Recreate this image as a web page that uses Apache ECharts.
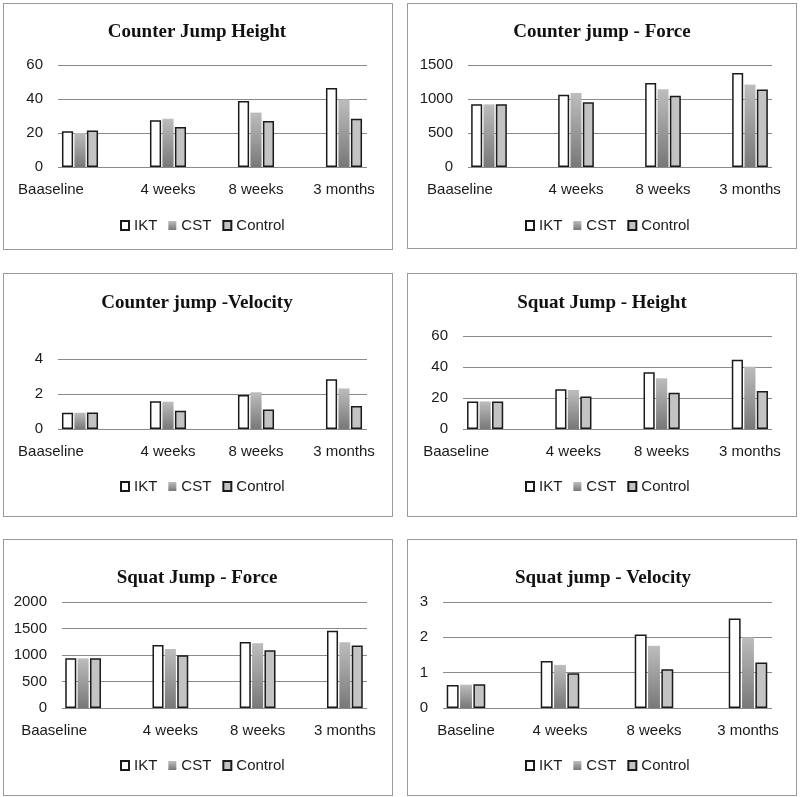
<!DOCTYPE html>
<html>
<head>
<meta charset="utf-8">
<script src="https://cdn.jsdelivr.net/npm/echarts@6/dist/echarts.min.js"></script>
<style>
  html, body { margin: 0; padding: 0; background: #fff; }
  #wrap { position: relative; width: 800px; height: 797px; }
  .frame { position: absolute; border: 1px solid #9a9a9a; box-sizing: border-box; }
  #chart { position: absolute; left: 0; top: 0; width: 800px; height: 797px; }
</style>
</head>
<body>
<div id="wrap">
  <div id="frames"></div>
  <div id="chart"></div>
</div>
<script>
// ---------------- DATA ----------------
const categories = ['Baaseline', '4 weeks', '8 weeks', '3 months'];
const categoriesSquatVelocity = ['Baseline', '4 weeks', '8 weeks', '3 months'];
const seriesNames = ['IKT', 'CST', 'Control'];

const titles = ['Counter Jump Height', 'Counter jump - Force', 'Counter jump -Velocity',
                'Squat Jump - Height', 'Squat Jump - Force', 'Squat jump - Velocity'];

// Counter Jump Height
const cjHeightIKT = [21, 27.5, 38.8, 46.5];
const cjHeightCST = [20, 28.4, 32, 39.8];
const cjHeightControl = [21.4, 23.5, 27, 28.4];
const cjHeightTicks = [0, 20, 40, 60];

// Counter jump - Force
const cjForceIKT = [921, 1064, 1236, 1384];
const cjForceCST = [921, 1089, 1143, 1212];
const cjForceControl = [921, 951, 1049, 1138];
const cjForceTicks = [0, 500, 1000, 1500];

// Counter jump - Velocity
const cjVelocityIKT = [0.93, 1.58, 1.94, 2.84];
const cjVelocityCST = [0.93, 1.56, 2.1, 2.32];
const cjVelocityControl = [0.95, 1.05, 1.12, 1.31];
const cjVelocityTicks = [0, 2, 4];

// Squat Jump - Height
const sjHeightIKT = [17.8, 25.6, 36.6, 44.7];
const sjHeightCST = [17.8, 25.2, 32.7, 40.2];
const sjHeightControl = [17.8, 20.9, 23.4, 24.5];
const sjHeightTicks = [0, 20, 40, 60];

// Squat Jump - Force
const sjForceIKT = [937, 1190, 1247, 1456];
const sjForceCST = [937, 1114, 1222, 1241];
const sjForceControl = [937, 994, 1089, 1177];
const sjForceTicks = [0, 500, 1000, 1500, 2000];

// Squat jump - Velocity
const sjVelocityIKT = [0.65, 1.33, 2.08, 2.53];
const sjVelocityCST = [0.66, 1.22, 1.76, 2.0];
const sjVelocityControl = [0.67, 0.98, 1.10, 1.29];
const sjVelocityTicks = [0, 1, 2, 3];

// ---------------- LAYOUT ----------------
const panels = [
  { title: titles[0], cats: categories, data: [cjHeightIKT, cjHeightCST, cjHeightControl], ticks: cjHeightTicks,
    frame: [3, 3, 390, 247], titleXY: [197, 32], band: [36, 388], lines: [58, 367], plot: [65, 167], legend: [120, 218], shift: true },
  { title: titles[1], cats: categories, data: [cjForceIKT, cjForceCST, cjForceControl], ticks: cjForceTicks,
    frame: [407, 3, 390, 246], titleXY: [602, 32], band: [445.5, 793.5], lines: [468, 772], plot: [65, 167], legend: [525, 218], shift: true },
  { title: titles[2], cats: categories, data: [cjVelocityIKT, cjVelocityCST, cjVelocityControl], ticks: cjVelocityTicks,
    frame: [3, 273, 390, 244], titleXY: [197, 303], band: [36, 388], lines: [58, 367], plot: [359, 429], legend: [120, 479], shift: true },
  { title: titles[3], cats: categories, data: [sjHeightIKT, sjHeightCST, sjHeightControl], ticks: sjHeightTicks,
    frame: [407, 273, 390, 244], titleXY: [602, 303], band: [441, 794], lines: [463, 772], plot: [336, 429], legend: [525, 479], shift: true },
  { title: titles[4], cats: categories, data: [sjForceIKT, sjForceCST, sjForceControl], ticks: sjForceTicks,
    frame: [3, 539, 390, 257], titleXY: [197, 578], band: [39.5, 388.5], lines: [62, 367], plot: [602, 708], legend: [120, 758], shift: true },
  { title: titles[5], cats: categoriesSquatVelocity, data: [sjVelocityIKT, sjVelocityCST, sjVelocityControl], ticks: sjVelocityTicks,
    frame: [407, 539, 390, 257], titleXY: [603, 578], band: [419, 795], lines: [443, 772], plot: [602, 708], legend: [525, 758], shift: false }
];

// frames (panel borders)
const framesEl = document.getElementById('frames');
panels.forEach(p => {
  const d = document.createElement('div');
  d.className = 'frame';
  d.style.left = p.frame[0] + 'px';
  d.style.top = p.frame[1] + 'px';
  d.style.width = p.frame[2] + 'px';
  d.style.height = p.frame[3] + 'px';
  framesEl.appendChild(d);
});

const FONT = 'Liberation Sans, Arial, sans-serif';
const TXT = '#1a1a1a';
const GRIDLINE = '#8a8a8a';
const EDGE = '#1a1a1a';

const seriesStyles = [
  { color: '#ffffff', borderColor: EDGE, borderWidth: 1.5 },
  { color: new echarts.graphic.LinearGradient(0, 0, 0, 1, [
      { offset: 0, color: '#bdbdbd' }, { offset: 1, color: '#787878' }]), borderWidth: 0 },
  { color: '#c3c3c3', borderColor: EDGE, borderWidth: 1.5 }
];

const option = {
  animation: false,
  backgroundColor: 'transparent',
  title: [], legend: [], grid: [], xAxis: [], yAxis: [], series: []
};

panels.forEach((p, i) => {
  const tmin = p.ticks[0], tmax = p.ticks[p.ticks.length - 1], step = p.ticks[1] - p.ticks[0];
  option.title.push({
    text: p.title, left: p.titleXY[0], top: p.titleXY[1],
    textAlign: 'center', textVerticalAlign: 'middle', padding: 0,
    textStyle: { fontFamily: 'Liberation Serif, Times New Roman, serif', fontWeight: 'bold', fontSize: 19, color: '#111' }
  });
  option.legend.push({
    data: seriesNames, left: p.legend[0], top: p.legend[1], padding: 0,
    itemWidth: 8, itemHeight: 9, itemGap: 11, icon: 'rect',
    textStyle: { fontFamily: FONT, fontSize: 15, color: TXT }
  });
  // bar grid (full category bands)
  option.grid.push({ left: p.band[0], top: p.plot[0], width: p.band[1] - p.band[0], height: p.plot[1] - p.plot[0], containLabel: false });
  // gridline grid (inset)
  option.grid.push({ left: p.lines[0], top: p.plot[0], width: p.lines[1] - p.lines[0], height: p.plot[1] - p.plot[0], containLabel: false });

  option.xAxis.push({
    type: 'category', gridIndex: 2 * i, data: p.cats,
    axisLine: { show: false }, axisTick: { show: false },
    axisLabel: {
      margin: 15, fontFamily: FONT, fontSize: 15, color: TXT, interval: 0,
      formatter: (v, idx) => (p.shift && idx === 0) ? '{s|' + v + '}' : v,
      rich: { s: { padding: [0, 58, 0, 0], fontFamily: FONT, fontSize: 15, color: TXT } }
    }
  });
  option.xAxis.push({ type: 'value', gridIndex: 2 * i + 1, min: 0, max: 1, show: false });

  option.yAxis.push({ type: 'value', gridIndex: 2 * i, min: tmin, max: tmax, interval: step, show: false });
  option.yAxis.push({
    type: 'value', gridIndex: 2 * i + 1, min: tmin, max: tmax, interval: step,
    axisLine: { show: false }, axisTick: { show: false },
    axisLabel: { margin: 15, fontFamily: FONT, fontSize: 15, color: TXT, formatter: v => String(v) },
    splitLine: { show: true, lineStyle: { color: GRIDLINE, width: 1.2 } }
  });

  seriesNames.forEach((name, k) => {
    option.series.push({
      type: 'bar', name: name, xAxisIndex: 2 * i, yAxisIndex: 2 * i,
      data: p.data[k], barCategoryGap: '59%', barGap: '12%',
      itemStyle: seriesStyles[k]
    });
  });
});

const chart = echarts.init(document.getElementById('chart'), null, { renderer: 'canvas' });
chart.setOption(option);
</script>
</body>
</html>
